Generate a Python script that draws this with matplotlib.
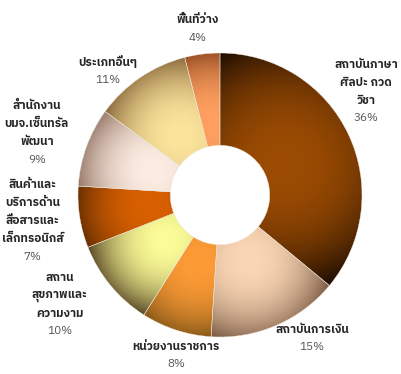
import numpy as np
import matplotlib
matplotlib.use("Agg")
import matplotlib.pyplot as plt
from matplotlib import font_manager
from matplotlib.ft2font import FT2Font
from matplotlib.patches import Wedge
from matplotlib.colors import to_rgb

# ข้อมูล
labels = ["สถาบันภาษา\nศิลปะ กวด\nวิชา", "สถาบันการเงิน", "หน่วยงานราชการ",
          "สถาน\nสุขภาพและ\nความงาม", "สินค้าและ\nบริการด้าน\nสื่อสารและ\nเล็กทรอนิกส์",
          "สำนักงาน\nบมจ.เซ็นทรัล\nพัฒนา", "ประเภทอื่นๆ", "พื้นที่ว่าง"]
values = [36, 15, 8, 10, 7, 9, 11, 4]

# สีไล่ระดับ (สว่าง -> มืด)
light = ["#9c4c02", "#fad6b4", "#fd9b36", "#fcfc98", "#d86000", "#fcece2", "#fce49c", "#ffa060"]
dark = ["#1c0c03", "#7a5a44", "#8a5a18", "#5a4a28", "#6a3000", "#9a7c6c", "#8a6a3c", "#9a5026"]

# ตำแหน่งป้าย (หน่วยรัศมี)
label_pos = [(1.03, 0.73), (0.65, -1.01), (-0.31, -1.13), (-1.13, -0.77),
             (-1.32, -0.18), (-1.29, 0.44), (-0.79, 0.87), (-0.16, 1.17)]

# หาฟอนต์ที่มีอักษรไทย
thai_fonts = []
for f in font_manager.fontManager.ttflist:
    try:
        if 0x0E01 in FT2Font(f.fname).get_charmap():
            thai_fonts.append(f.name)
    except Exception:
        pass
pref = [n for n in thai_fonts if "Sans" in n and "Mono" not in n] + thai_fonts
fams = pref[:1] + ["DejaVu Sans"]
plt.rcParams["font.family"] = fams

fig = plt.figure(figsize=(4.02, 3.74), dpi=100)
ax = fig.add_axes([0, 0, 1, 1])
ax.set_xlim(-220 / 142, 182 / 142)
ax.set_ylim(-179 / 142, 195 / 142)
ax.axis("off")

R, r_in = 1.0, 0.35
xs = np.linspace(-1.1, 1.1, 500)
X, Y = np.meshgrid(xs, xs)
ang = np.degrees(np.arctan2(Y, X))
rad = np.hypot(X, Y)

total = sum(values)
start = 90.0
line_h = 18  # pixels
for i, v in enumerate(values):
    sweep = 360.0 * v / total
    t1, t2 = start - sweep, start
    mid = np.radians((t1 + t2) / 2)
    px, py = 0.5 * np.cos(mid), 0.5 * np.sin(mid)
    d = np.hypot(X - px, Y - py)
    a = (ang - t1) % 360
    inside = (a <= sweep) & (rad <= R) & (rad >= r_in)
    dmax = d[inside].max() if inside.any() else 1.0
    t = np.clip(d / dmax, 0, 1) ** 2.3
    c0, c1 = np.array(to_rgb(light[i])), np.array(to_rgb(dark[i]))
    img = c0 + (c1 - c0) * t[..., None]
    w = Wedge((0, 0), R, t1, t2, width=R - r_in, facecolor="none",
              edgecolor="#efe6dc", linewidth=0.3, zorder=3)
    ax.add_patch(w)
    im = ax.imshow(img, extent=(-1.1, 1.1, -1.1, 1.1), origin="lower",
                   interpolation="bilinear", zorder=2)
    im.set_clip_path(w)

    # ป้ายแต่ละบรรทัด + เปอร์เซ็นต์
    lines = labels[i].split("\n") + [f"{v}%"]
    n = len(lines)
    lx, ly = label_pos[i]
    for k, s in enumerate(lines):
        off = -(k - (n - 1) / 2) * line_h
        is_pct = k == n - 1
        ax.annotate(s, (lx, ly), xytext=(0, off), textcoords="offset pixels",
                    ha="center", va="center", fontsize=8.5,
                    fontweight="normal" if is_pct else "bold",
                    color="#555555" if is_pct else "#262626", zorder=5)
    start -= sweep

fig.savefig("out.png", dpi=100)
